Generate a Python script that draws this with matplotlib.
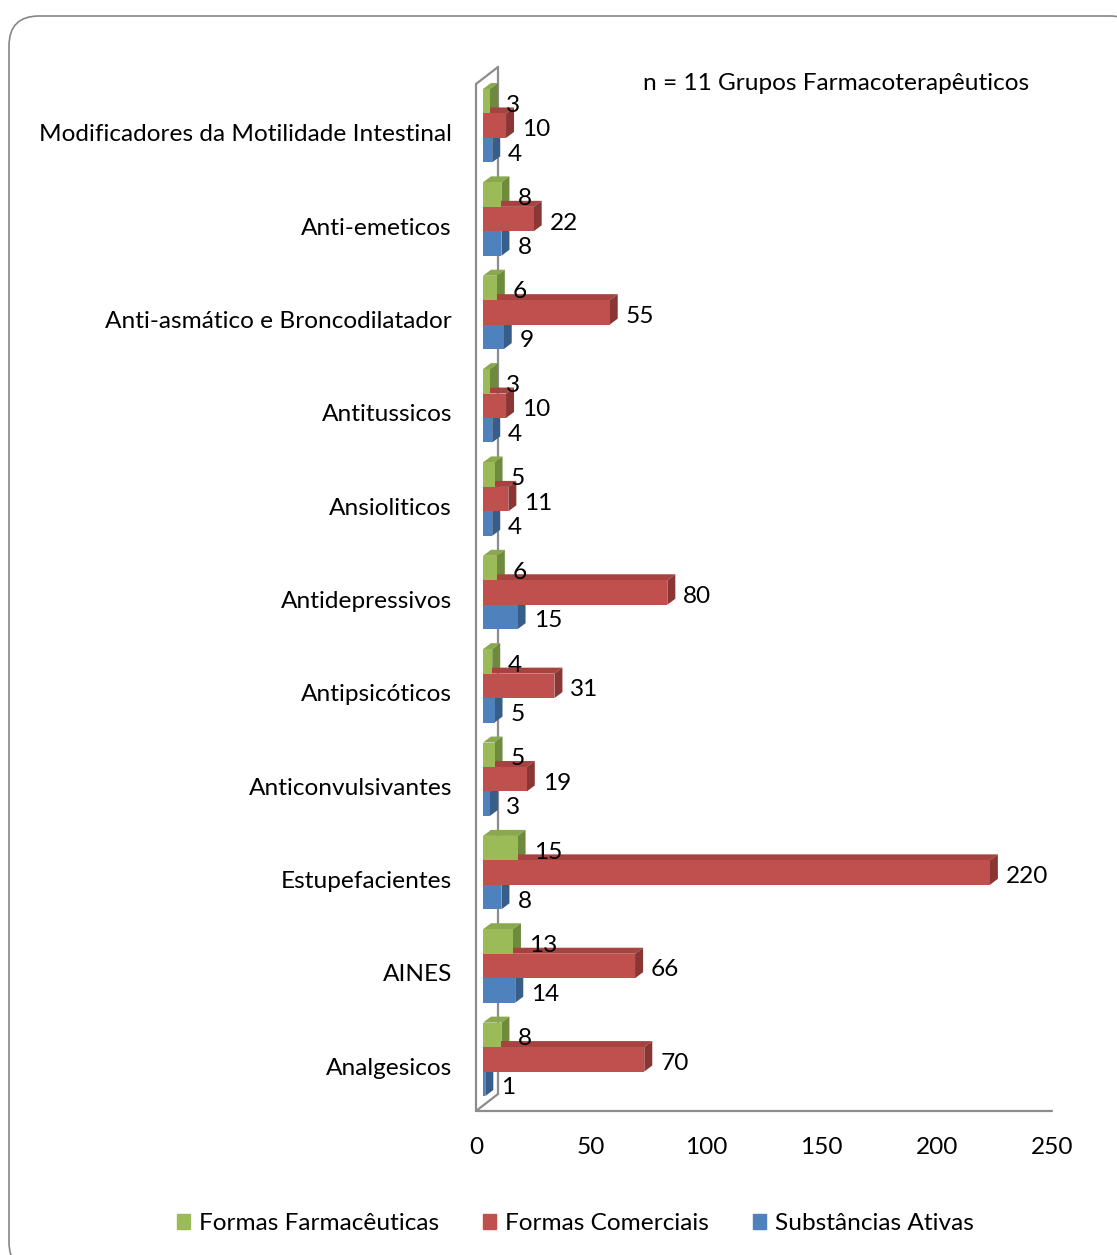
import numpy as np
import matplotlib.pyplot as plt
import matplotlib.patches as mpatches
from matplotlib.patches import Polygon, FancyBboxPatch

# Data (categories listed top to bottom)
categories = [
    'Modificadores da Motilidade Intestinal',
    'Anti-emeticos',
    'Anti-asmático e Broncodilatador',
    'Antitussicos',
    'Ansioliticos',
    'Antidepressivos',
    'Antipsicóticos',
    'Anticonvulsivantes',
    'Estupefacientes',
    'AINES',
    'Analgesicos',
]
formas_farmaceuticas = [3, 8, 6, 3, 5, 6, 4, 5, 15, 13, 8]
formas_comerciais = [10, 22, 55, 10, 11, 80, 31, 19, 220, 66, 70]
substancias_ativas = [4, 8, 9, 4, 4, 15, 5, 3, 8, 14, 1]
series_names = ['Formas Farmacêuticas', 'Formas Comerciais', 'Substâncias Ativas']
x_ticks = [0, 50, 100, 150, 200, 250]
note = 'n = 11 Grupos Farmacoterapêuticos'

# Excel-2007 style colours: (front, top, side)
C_GREEN = ('#9BBB59', '#8AA84E', '#6E8A3C')
C_RED = ('#C0504D', '#A6423F', '#8A3634')
C_BLUE = ('#4F81BD', '#4470A6', '#375D8A')
C_FRAME = '#8C8C8C'

FONT = 'Lato'
FS = 17.6

W, H = 1117, 1255
fig = plt.figure(figsize=(W / 100, H / 100), dpi=100)
fig.patch.set_facecolor('white')

# plot area (front plane) in pixels
px_l, px_r, px_t, px_b = 476, 1052, 84, 1111
ax = fig.add_axes([px_l / W, 1 - px_b / H, (px_r - px_l) / W, (px_b - px_t) / H])
n = len(categories)
ax.set_xlim(0, 250)
ax.set_ylim(-0.5, n - 0.5)
ax.axis('off')

ux = 250 / (px_r - px_l)      # data units per pixel (x)
uy = n / (px_b - px_t)        # data units per pixel (y)

# 3D geometry
wall_dx, wall_dy = 22 * ux, 17 * uy
face_dx, face_dy = 7 * ux, 5 * uy       # bar front face offset from front plane
depth_dx, depth_dy = 8 * ux, 6 * uy     # bar depth
bar_h = 0.262

# wall / floor frame
y0, y1 = -0.5, n - 0.5
frame_kw = dict(color=C_FRAME, lw=1.6, clip_on=False, zorder=1, solid_capstyle='round')
ax.plot([0, 0], [y0, y1], **frame_kw)
ax.plot([wall_dx, wall_dx], [y0 + wall_dy, y1 + wall_dy], **frame_kw)
ax.plot([0, wall_dx], [y1, y1 + wall_dy], **frame_kw)
ax.plot([0, wall_dx], [y0, y0 + wall_dy], **frame_kw)
ax.plot([0, 250], [y0, y0], **frame_kw)

ypos = np.arange(n)[::-1]
all_series = [formas_farmaceuticas, formas_comerciais, substancias_ativas]
colors = [C_GREEN, C_RED, C_BLUE]
offsets = [bar_h, 0, -bar_h]

for vals, cols, off in zip(all_series, colors, offsets):
    yc = ypos + off + face_dy
    ax.barh(yc, vals, left=face_dx, height=bar_h, color=cols[0],
            edgecolor='none', zorder=3, clip_on=False)
    for yy, v in zip(yc, vals):
        xl, xr = face_dx, face_dx + v
        yt, yb = yy + bar_h / 2, yy - bar_h / 2
        top = Polygon([(xl, yt), (xr, yt), (xr + depth_dx, yt + depth_dy),
                       (xl + depth_dx, yt + depth_dy)],
                      closed=True, fc=cols[1], ec='none', zorder=2.5, clip_on=False)
        side = Polygon([(xr, yb), (xr + depth_dx, yb + depth_dy),
                        (xr + depth_dx, yt + depth_dy), (xr, yt)],
                       closed=True, fc=cols[2], ec='none', zorder=2.5, clip_on=False)
        ax.add_patch(top)
        ax.add_patch(side)
        ax.text(xr + 16 * ux, yy - 4 * uy, str(v), ha='left', va='center',
                fontsize=FS, family=FONT, color='black', zorder=5, clip_on=False)

# category labels
for yy, lab in zip(ypos, categories):
    ax.text(-24 * ux, yy - 4 * uy, lab, ha='right', va='center',
            fontsize=FS, family=FONT, color='black', clip_on=False)

# x tick labels
for t in x_ticks:
    ax.text(t, y0 - 36 * uy, str(t), ha='center', va='center',
            fontsize=FS, family=FONT, color='black', clip_on=False)

# note
fig.text(643 / W, 1 - 84 / H, note, ha='left', va='center',
         fontsize=FS, family=FONT, color='black')

# legend
handles = [mpatches.Patch(color=c[0], label=s) for c, s in zip(colors, series_names)]
fig.legend(handles=handles, loc='center', bbox_to_anchor=(575 / W, 1 - 1224 / H),
           ncol=3, frameon=False, handlelength=0.55, handleheight=0.55,
           handletextpad=0.35, columnspacing=1.8,
           prop={'family': FONT, 'size': FS})

# rounded chart border (extends past right/bottom edges)
bax = fig.add_axes([0, 0, 1, 1], zorder=-1)
bax.set_xlim(0, W)
bax.set_ylim(H, 0)
bax.axis('off')
bax.add_patch(FancyBboxPatch((9, 16), 1131, 1256,
                             boxstyle='round,pad=0,rounding_size=30',
                             fc='white', ec='#868686', lw=1.2))

fig.savefig('out.png', dpi=100)
